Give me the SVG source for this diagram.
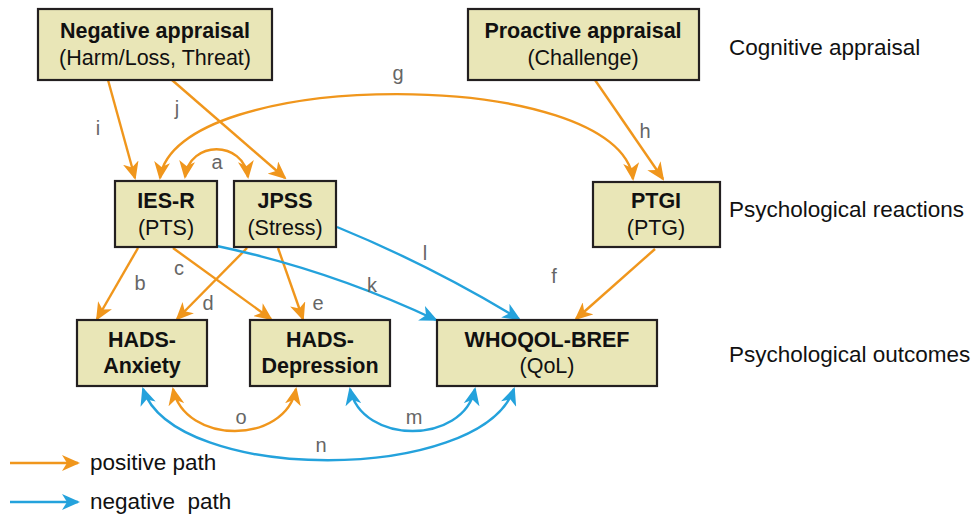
<svg xmlns="http://www.w3.org/2000/svg" width="973" height="516" viewBox="0 0 973 516">
<style>
.box{fill:#e9e6b7;stroke:#231f20;stroke-width:2.2}
.t{font-family:"Liberation Sans",Arial,sans-serif;font-size:21.5px;fill:#111;text-anchor:middle}
.b{font-weight:bold}
.side{font-family:"Liberation Sans",Arial,sans-serif;font-size:22.5px;fill:#111}
.lab{font-family:"Liberation Sans",Arial,sans-serif;font-size:20px;fill:#666;text-anchor:middle}
.pos{fill:none;stroke:#f0961c;stroke-width:2.4}
.neg{fill:none;stroke:#24a2dc;stroke-width:2.4}
</style>
<defs>
<marker id="ao" markerUnits="userSpaceOnUse" markerWidth="18" markerHeight="16" refX="16" refY="8" orient="auto-start-reverse">
<path d="M0,0 L18,8 L0,16 L5,8 z" fill="#f0961c"/>
</marker>
<marker id="ab" markerUnits="userSpaceOnUse" markerWidth="18" markerHeight="16" refX="16" refY="8" orient="auto-start-reverse">
<path d="M0,0 L18,8 L0,16 L5,8 z" fill="#24a2dc"/>
</marker>
</defs>
<rect width="973" height="516" fill="#fff"/>

<g id="connectors">
<path id="i" class="pos" d="M108,80 L135,178" marker-end="url(#ao)"/>
<path id="j" class="pos" d="M172,80 L285,178" marker-end="url(#ao)"/>
<path id="h" class="pos" d="M595,80 L663,179" marker-end="url(#ao)"/>
<path id="g" class="pos" d="M160,178 C175,66 620,66 633,179" marker-start="url(#ao)" marker-end="url(#ao)"/>
<path id="a" class="pos" d="M185,177 C190,140 243,140 248,177" marker-start="url(#ao)" marker-end="url(#ao)"/>
<path id="b" class="pos" d="M138,248 L97,319" marker-end="url(#ao)"/>
<path id="c" class="pos" d="M173,248 L271,319" marker-end="url(#ao)"/>
<path id="d" class="pos" d="M247,248 L177,319" marker-end="url(#ao)"/>
<path id="e" class="pos" d="M278,248 L303,319" marker-end="url(#ao)"/>
<path id="f" class="pos" d="M655,249 L576,319" marker-end="url(#ao)"/>
<path id="k" class="neg" d="M217,246 Q330,270 436,320" marker-end="url(#ab)"/>
<path id="l" class="neg" d="M337,227 Q430,265 519,319" marker-end="url(#ab)"/>
<path id="o" class="pos" d="M173,389 C185,445 285,445 296,389" marker-start="url(#ao)" marker-end="url(#ao)"/>
<path id="m" class="neg" d="M350,389 C362,445 463,445 475,389" marker-start="url(#ab)" marker-end="url(#ab)"/>
<path id="n" class="neg" d="M143,389 C175,484 480,484 514,389" marker-start="url(#ab)" marker-end="url(#ab)"/>
</g>

<g id="edge-labels">
<text class="lab" x="98" y="135">i</text>
<text class="lab" x="177" y="115">j</text>
<text class="lab" x="398" y="80">g</text>
<text class="lab" x="645" y="138">h</text>
<text class="lab" x="217" y="169">a</text>
<text class="lab" x="140" y="290">b</text>
<text class="lab" x="179" y="275">c</text>
<text class="lab" x="208" y="310">d</text>
<text class="lab" x="318" y="310">e</text>
<text class="lab" x="372" y="292">k</text>
<text class="lab" x="425" y="260">l</text>
<text class="lab" x="554" y="283">f</text>
<text class="lab" x="241" y="424">o</text>
<text class="lab" x="414" y="424">m</text>
<text class="lab" x="321" y="452">n</text>
</g>

<g id="negative-appraisal">
<rect class="box" x="38" y="9" width="234" height="71"/>
<text class="t b" x="155" y="38">Negative appraisal</text>
<text class="t" x="155" y="65">(Harm/Loss, Threat)</text>
</g>
<g id="proactive-appraisal">
<rect class="box" x="468" y="9" width="231" height="71"/>
<text class="t b" x="583" y="38">Proactive appraisal</text>
<text class="t" x="583" y="65">(Challenge)</text>
</g>
<g id="ies-r">
<rect class="box" x="115" y="181" width="102" height="66"/>
<text class="t b" x="166" y="208">IES-R</text>
<text class="t" x="166" y="235">(PTS)</text>
</g>
<g id="jpss">
<rect class="box" x="234" y="181" width="102" height="66"/>
<text class="t b" x="285" y="208">JPSS</text>
<text class="t" x="285" y="235">(Stress)</text>
</g>
<g id="ptgi">
<rect class="box" x="593" y="182" width="127" height="65"/>
<text class="t b" x="656" y="208">PTGI</text>
<text class="t" x="656" y="235">(PTG)</text>
</g>
<g id="hads-anxiety">
<rect class="box" x="77" y="320" width="130" height="66"/>
<text class="t b" x="142" y="347">HADS-</text>
<text class="t b" x="142" y="373">Anxiety</text>
</g>
<g id="hads-depression">
<rect class="box" x="250" y="320" width="140" height="66"/>
<text class="t b" x="320" y="347">HADS-</text>
<text class="t b" x="320" y="373">Depression</text>
</g>
<g id="whoqol-bref">
<rect class="box" x="437" y="320" width="220" height="66"/>
<text class="t b" x="547" y="347">WHOQOL-BREF</text>
<text class="t" x="547" y="373">(QoL)</text>
</g>

<g id="level-labels">
<text class="side" x="729" y="55">Cognitive appraisal</text>
<text class="side" x="729" y="217">Psychological reactions</text>
<text class="side" x="729" y="362">Psychological outcomes</text>
</g>

<g id="legend">
<path class="pos" d="M10,463 L78,463" marker-end="url(#ao)"/>
<text class="side" x="90" y="470">positive path</text>
<path class="neg" d="M10,502 L78,502" marker-end="url(#ab)"/>
<text class="side" x="90" y="509" xml:space="preserve">negative  path</text>
</g>
</svg>
